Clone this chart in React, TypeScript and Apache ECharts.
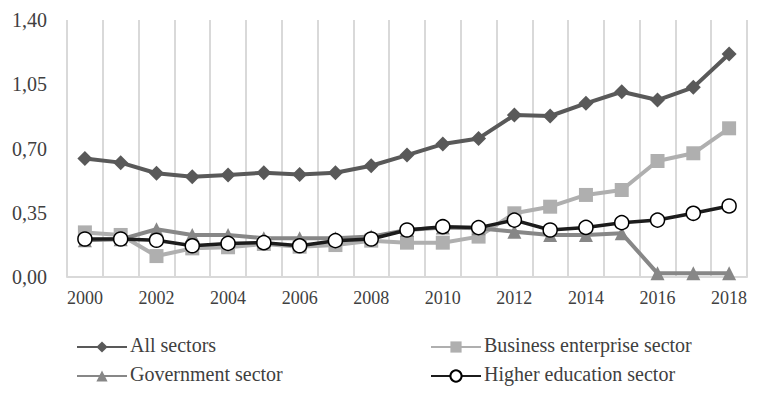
import React, { useEffect, useRef } from "react";
import * as echarts from "echarts";

const years = ["2000","2001","2002","2003","2004","2005","2006","2007","2008","2009","2010","2011","2012","2013","2014","2015","2016","2017","2018"];
const allSectors = [0.646,0.623,0.565,0.546,0.556,0.568,0.559,0.568,0.606,0.664,0.724,0.755,0.882,0.877,0.946,1.009,0.964,1.033,1.215];
const business = [0.243,0.229,0.114,0.156,0.162,0.18,0.165,0.174,0.198,0.187,0.187,0.22,0.347,0.383,0.447,0.474,0.632,0.674,0.81];
const government = [0.2,0.205,0.26,0.229,0.229,0.211,0.211,0.211,0.22,0.256,0.27,0.265,0.247,0.229,0.229,0.238,0.02,0.02,0.02];
const higherEd = [0.207,0.207,0.2,0.17,0.183,0.187,0.17,0.198,0.207,0.256,0.274,0.269,0.31,0.256,0.27,0.296,0.31,0.347,0.387];
const seriesNames = ["All sectors", "Business enterprise sector", "Government sector", "Higher education sector"];
const yTicks = { min: 0, max: 1.4, interval: 0.35 };

const FONT = "Liberation Serif, DejaVu Serif, serif";

export default function App() {
  const ref = useRef<HTMLDivElement>(null);
  useEffect(() => {
    const chart = echarts.init(ref.current!, null, { renderer: "svg" });
    const mk = (name: string, data: number[], color: string, symbol: string, size: number, extra: any = {}) => ({
      name,
      type: "line",
      data,
      symbol,
      symbolSize: size,
      lineStyle: { color, width: extra.width ?? 4 },
      itemStyle: extra.itemStyle ?? { color },
      color,
      z: extra.z ?? 2,
    });
    const slots: [number, number][] = [[76, 347], [430, 347], [76, 376], [430, 376]];
    const legends = seriesNames.map((n, i) => ({
      data: [n],
      left: slots[i][0],
      top: slots[i][1] - 7,
      itemWidth: 50,
      itemHeight: 14,
      padding: 0,
      formatter: () => "",
      textStyle: { fontSize: 1 },
    }));
    const legendTexts = seriesNames.map((n, i) => ({
      type: "text",
      left: slots[i][0] + 54,
      top: slots[i][1] - 12,
      style: { text: n, fontFamily: FONT, fontSize: 20, fontWeight: "normal", fill: "#404040" },
    }));
    chart.setOption({
      animation: false,
      grid: { left: 67, right: 10, top: 20, bottom: 118 },
      textStyle: { fontFamily: FONT },
      legend: legends,
      graphic: legendTexts,
      xAxis: {
        type: "category",
        data: years,
        boundaryGap: true,
        axisLine: { lineStyle: { color: "#d9d9d9", width: 2 } },
        axisTick: { show: false },
        axisLabel: { interval: 1, fontFamily: FONT, fontSize: 18, color: "#404040", margin: 12 },
        splitLine: { show: true, interval: 0, lineStyle: { color: "#d9d9d9", width: 2 } },
      },
      yAxis: {
        type: "value",
        min: yTicks.min,
        max: yTicks.max,
        interval: yTicks.interval,
        axisLine: { show: false },
        axisTick: { show: false },
        splitLine: { show: false },
        axisLabel: {
          fontFamily: FONT,
          fontSize: 20,
          color: "#404040",
          margin: 20,
          formatter: (v: number) => v.toFixed(2).replace(".", ","),
        },
      },
      series: [
        mk(seriesNames[0], allSectors, "#595959", "diamond", 15),
        mk(seriesNames[1], business, "#afafaf", "rect", 14),
        mk(seriesNames[2], government, "#878787", "triangle", 14),
        mk(seriesNames[3], higherEd, "#1c1c1c", "circle", 14, {
          width: 3.5,
          z: 3,
          itemStyle: { color: "#ffffff", borderColor: "#000000", borderWidth: 1.5 },
        }),
      ],
    });
    return () => chart.dispose();
  }, []);
  return <div ref={ref} style={{ width: 757, height: 395, position: "absolute", left: 0, top: 0 }} />;
}
